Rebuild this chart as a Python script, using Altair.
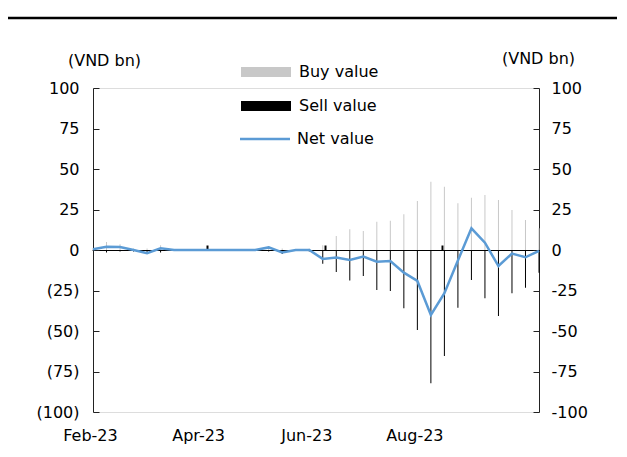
import altair as alt
import pandas as pd

# ---- data (weekly, VND bn) ----
dates = pd.date_range("2023-02-01", periods=34, freq="7D").strftime("%Y-%m-%d").tolist()

buy_value = [1, 5, 3.5, 1, 1, 3, 0.3, 0.3, 0.3, 0.3, 0.3, 0.3, 0.5, 2.5, 1, 0.5, 1,
             3, 8.6, 12.8, 11.7, 17.5, 18.1, 22, 30.2, 42.2, 39, 28.8, 32.3, 34,
             30.9, 24.7, 18.5, 13.4]
sell_value = [-0.5, -1.5, -1, -1, -2.5, -1.5, -0.3, -0.3, -0.3, -0.3, -0.3, -0.3, -0.5,
              -1, -2.5, -0.5, -1, -8.5, -13.6, -18.9, -16, -24.7, -25.3, -36, -49.4,
              -82.3, -65.4, -35.6, -18.5, -29.8, -40.7, -26.7, -23.3, -14]
net_value = [0.5, 2, 1.8, 0, -2, 1, 0, 0, 0, 0, 0, 0, 0, 1.6, -1.5, 0, 0,
             -5.5, -4.7, -6.2, -4.1, -7.2, -6.8, -14, -19.1, -40.1, -26.7, -6.5,
             13.4, 4.5, -9.9, -2.2, -4.5, -0.5]

series_names = ["Buy value", "Sell value", "Net value"]
series_colors = ["#c8c8c8", "#000000", "#5b9bd5"]
y_ticks = [-100, -75, -50, -25, 0, 25, 50, 75, 100]
label_dates = [dates[0], dates[8], dates[16], dates[24]]       # Feb-23, Apr-23, Jun-23, Aug-23
month_tick_dates = ["2023-04-01", "2023-06-01", "2023-08-01"]

bars_df = pd.DataFrame({
    "date": dates * 2,
    "series": [series_names[0]] * len(dates) + [series_names[1]] * len(dates),
    "value": buy_value + sell_value,
})
net_df = pd.DataFrame({"date": dates, "series": series_names[2], "value": net_value})


def dt(s):
    y, m, d = map(int, s.split("-"))
    return alt.DateTime(year=y, month=m, date=d)


W, H = 446, 324
FONT = "DejaVu Sans"
FS = 16
AXIS_C = "#222222"

xs = alt.Scale(domain=[dt(dates[0]), dt(dates[-1])], nice=False, padding=0)
ys = alt.Scale(domain=[-100, 100], nice=False, zero=False)

bars = alt.Chart(bars_df).mark_bar(width=1).encode(
    x=alt.X("date:T", scale=xs, axis=alt.Axis(
        orient="bottom", values=[dt(d) for d in label_dates],
        labelExpr="timeFormat(datetime(year(datum.value), month(datum.value) + (date(datum.value) > 15 ? 1 : 0), 1), '%b-%y')",
        domain=False, ticks=False, grid=False, labelFont=FONT, labelFontSize=FS,
        labelColor="#000", labelPadding=15, labelOffset=-3, labelFlush=False,
        labelOverlap=False, title=None)),
    y=alt.Y("value:Q", scale=ys, stack=None, axis=alt.Axis(
        orient="left", values=y_ticks,
        labelExpr="datum.value < 0 ? '(' + abs(datum.value) + ')' : '' + datum.value",
        ticks=True, tickSize=alt.ExprRef("-6"), tickColor=AXIS_C, tickWidth=1,
        domain=True, domainColor=AXIS_C, domainWidth=1, grid=False,
        labelFont=FONT, labelFontSize=FS, labelColor="#000", labelPadding=20,
        title="(VND bn)", titleAngle=0, titleX=11, titleY=-28, titleAlign="center",
        titleBaseline="middle", titleFont=FONT, titleFontSize=FS, titleFontWeight="normal",
        titleColor="#000")),
    fill=alt.Fill("series:N", scale=alt.Scale(domain=series_names[:2], range=series_colors[:2]),
                  legend=alt.Legend(orient="none", legendX=165, legendY=-24, title=None,
                                    symbolType="M-5,-1H5V1H-5Z", symbolSize=100,
                                    symbolStrokeWidth=0, labelFont=FONT, labelFontSize=FS,
                                    labelColor="#000", labelOffset=25, rowPadding=18,
                                    padding=0)),
)

line = alt.Chart(net_df).mark_line(strokeWidth=2.5).encode(
    x=alt.X("date:T", scale=xs, axis=alt.Axis(
        orient="top", offset=-H / 2, values=[dt(d) for d in month_tick_dates],
        labels=False, ticks=True, tickSize=5, tickWidth=2, tickColor="#000",
        domain=True, domainColor="#000", domainWidth=1.2, grid=False, title=None)),
    y=alt.Y("value:Q", scale=ys, axis=alt.Axis(
        orient="right", values=y_ticks, labelExpr="'' + datum.value",
        ticks=True, tickSize=alt.ExprRef("-6"), tickColor=AXIS_C, tickWidth=1,
        domain=True, domainColor=AXIS_C, domainWidth=1, grid=False,
        labelFont=FONT, labelFontSize=FS, labelColor="#000", labelPadding=18,
        title="(VND bn)", titleAngle=0, titleX=-1, titleY=-30, titleAlign="center",
        titleBaseline="middle", titleFont=FONT, titleFontSize=FS, titleFontWeight="normal",
        titleColor="#000")),
    stroke=alt.Stroke("series:N", scale=alt.Scale(domain=series_names[2:], range=series_colors[2:]),
                      legend=alt.Legend(orient="none", legendX=164, legendY=43, title=None,
                                        symbolType="M-5,0H5", symbolSize=100,
                                        symbolStrokeWidth=2.5, labelFont=FONT, labelFontSize=FS,
                                        labelColor="#000", labelOffset=24, padding=0)),
)

# rule under the (cropped) figure title
header_rule = alt.Chart(pd.DataFrame({"k": [0]})).mark_rule(color="#000", strokeWidth=2.5).encode(
    x=alt.value(-85), x2=alt.value(W + 78), y=alt.value(-70)
)

chart = alt.layer(bars, line, header_rule).resolve_axis(
    x="independent", y="independent"
).properties(
    width=W, height=H,
    autosize=alt.AutoSizeParams(type="none"),
    padding={"left": 85, "top": 80, "right": 78, "bottom": 33},
).configure_view(stroke=None).configure(background="#ffffff")

chart.save("out.html", embed_options={"renderer": "svg", "actions": False})
